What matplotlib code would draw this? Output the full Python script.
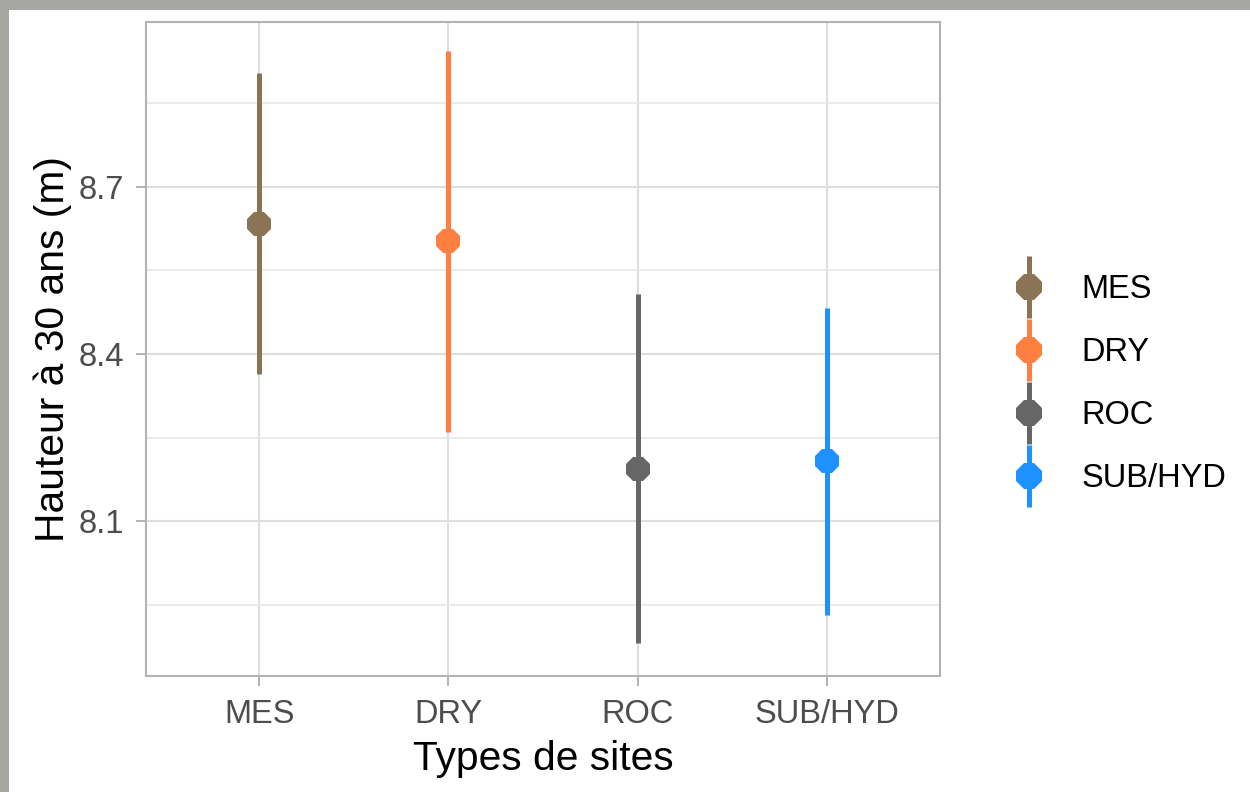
import numpy as np
import matplotlib.pyplot as plt
from matplotlib.patches import Rectangle
from matplotlib.legend_handler import HandlerErrorbar

plt.rcParams['font.family'] = ['Liberation Sans', 'DejaVu Sans']

# Data
sites = ['MES', 'DRY', 'ROC', 'SUB/HYD']
moyenne = [8.634, 8.603, 8.193, 8.208]
borne_inf = [8.364, 8.260, 7.881, 7.931]
borne_sup = [8.905, 8.944, 8.508, 8.483]
couleurs = ['#8B7355', '#FF7F40', '#666666', '#1E90FF']

fig = plt.figure(figsize=(12.5, 7.92), dpi=100)
fig.patch.set_facecolor('white')
# grey frame of the screenshot (top and left strips)
gris = '#A6A7A2'
fig.patches.append(Rectangle((0, 1 - 10 / 792), 1, 10 / 792, transform=fig.transFigure,
                             facecolor=gris, edgecolor='none'))
fig.patches.append(Rectangle((0, 0), 9 / 1250, 1, transform=fig.transFigure,
                             facecolor=gris, edgecolor='none'))

ax = fig.add_axes([146 / 1250, 1 - 676 / 792, (940 - 146) / 1250, (676 - 22) / 792])

x = np.arange(len(sites))
handles = []
for i in range(len(sites)):
    err = [[moyenne[i] - borne_inf[i]], [borne_sup[i] - moyenne[i]]]
    h = ax.errorbar(x[i], moyenne[i], yerr=err, fmt='8', color=couleurs[i],
                    ecolor=couleurs[i], elinewidth=3.6, markersize=19, capsize=0,
                    markeredgewidth=0, zorder=3, label=sites[i])
    handles.append(h)

ax.set_xlim(-0.6, len(sites) - 0.4)
ax.set_ylim(7.822, 8.996)
ax.set_xticks(x)
ax.set_xticklabels(sites)
ax.set_yticks([8.1, 8.4, 8.7])
ax.set_yticks([7.95, 8.25, 8.55, 8.85], minor=True)

ax.grid(which='major', color='#DEDEDE', linewidth=1.5)
ax.grid(which='minor', color='#E6E6E6', linewidth=1.1)
ax.set_axisbelow(True)
for s in ax.spines.values():
    s.set_color('#B3B3B3')
    s.set_linewidth(1.5)

ax.tick_params(which='major', color='#B3B3B3', width=1.4, length=7,
               labelsize=23.5, labelcolor='#4D4D4D')
ax.tick_params(axis='x', pad=9.5)
ax.tick_params(axis='y', pad=9)
ax.tick_params(which='minor', length=0)

ax.set_xlabel('Types de sites', fontsize=29.3, labelpad=7)
ax.set_ylabel('Hauteur à 30 ans (m)', fontsize=29.3, labelpad=4.5)

fig.legend(handles=handles, labels=sites, loc='center left',
           bbox_to_anchor=(1013 / 1250, 1 - 384 / 792), frameon=False,
           fontsize=23.5, handlelength=1.0, handletextpad=1.1, labelspacing=0.98,
           borderpad=0, borderaxespad=0, markerscale=1.05,
           handler_map={type(handles[0]): HandlerErrorbar(yerr_size=0.95)})

fig.savefig('out.png', dpi=100, facecolor=fig.get_facecolor())
